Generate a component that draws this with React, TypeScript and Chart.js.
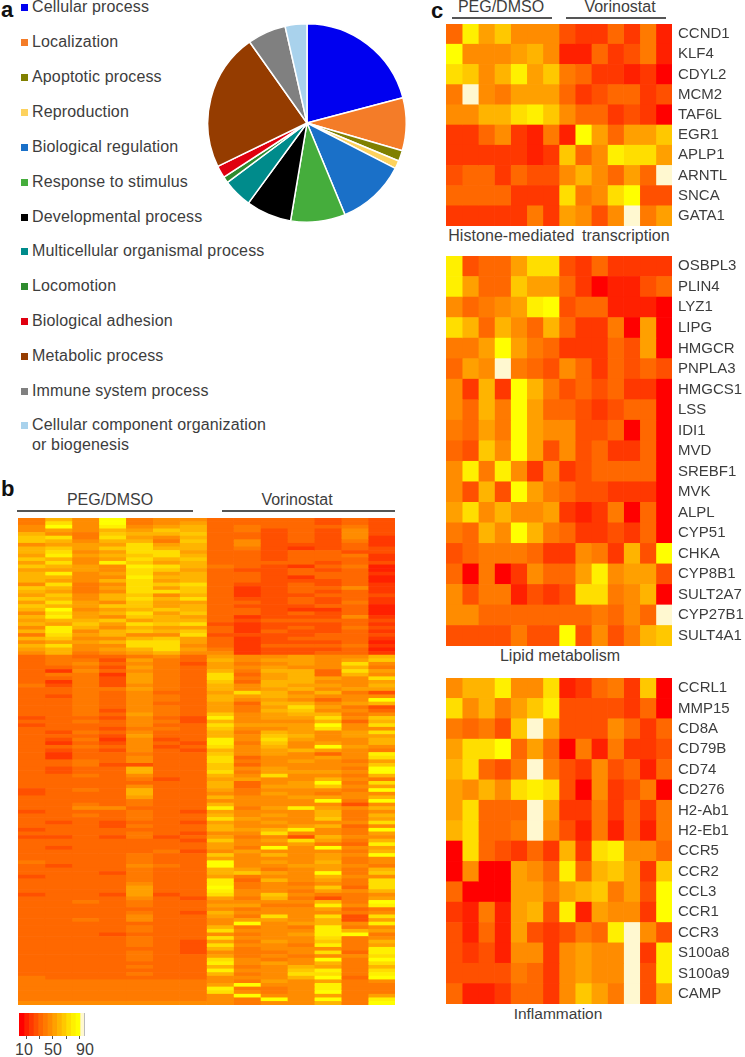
import React, { useEffect, useRef } from "react";
import { Chart, registerables } from "chart.js";
Chart.register(...registerables);

const FONT = '"Liberation Sans", Arial, sans-serif';
const TEXT = "#3d3d3d";

// ---------- panel a ----------
const pieCategories = ["Cellular process", "Localization", "Apoptotic process", "Reproduction", "Biological regulation", "Response to stimulus", "Developmental process", "Multicellular organismal process", "Locomotion", "Biological adhesion", "Metabolic process", "Immune system process", "Cellular component organization or biogenesis"];
const pieValues = [20.9, 8.6, 1.75, 1.3, 11.2, 8.9, 7.4, 4.75, 1.0, 2.0, 22.4, 6.25, 3.55];
const pieColors = ["#0000f0", "#f47c28", "#808000", "#fdd25e", "#1a70c8", "#45ad3c", "#000000", "#008b8b", "#2e8b2e", "#e00010", "#953c00", "#808080", "#a9d2ec"];
const legendY = [7, 42, 77, 112, 147, 182, 217, 251, 286, 321, 356, 391, 425];

// ---------- colour key ----------
const keyColors = ["#ff0000", "#ff2000", "#ff3800", "#ff5000", "#ff6800", "#ff7a00", "#ff8c00", "#ffa000", "#ffb400", "#ffc800", "#ffde00", "#fff000", "#ffff00", "#fff8d0"];
const keyStart = [0, 7, 14, 21, 28, 35, 42, 49, 56, 63, 70, 77, 84, 91];
const keyWidth = 7;
const keyTicks = [10, 30, 50, 70, 90];
const keyLabels = [["10", 24], ["50", 53], ["90", 85]];

// ---------- panel c ----------
const samples = ["P1", "P2", "P3", "P4", "P5", "P6", "P7", "V1", "V2", "V3", "V4", "V5", "V6", "V7"];
const histoneGenes = ["CCND1", "KLF4", "CDYL2", "MCM2", "TAF6L", "EGR1", "APLP1", "ARNTL", "SNCA", "GATA1"];
const histoneValues = [
  [34, 80, 52, 67, 46, 46, 46, 25, 15, 15, 32, 14, 40, 12],
  [84, 46, 46, 46, 52, 60, 42, 12, 12, 30, 20, 22, 40, 8],
  [70, 63, 48, 56, 80, 50, 63, 40, 34, 18, 20, 8, 14, 6],
  [36, 95, 48, 38, 52, 52, 52, 34, 15, 25, 30, 30, 14, 25],
  [46, 46, 56, 56, 70, 78, 63, 46, 30, 30, 14, 22, 14, 3],
  [14, 14, 34, 44, 20, 12, 40, 10, 84, 50, 30, 52, 52, 66],
  [14, 14, 14, 18, 18, 12, 20, 63, 34, 48, 78, 70, 70, 54],
  [26, 32, 32, 20, 30, 22, 22, 42, 60, 48, 34, 52, 30, 95],
  [30, 30, 30, 30, 20, 20, 20, 76, 36, 46, 74, 84, 22, 22],
  [20, 20, 20, 20, 20, 40, 20, 50, 44, 24, 42, 95, 36, 52],
];
const lipidGenes = ["OSBPL3", "PLIN4", "LYZ1", "LIPG", "HMGCR", "PNPLA3", "HMGCS1", "LSS", "IDI1", "MVD", "SREBF1", "MVK", "ALPL", "CYP51", "CHKA", "CYP8B1", "SULT2A7", "CYP27B1", "SULT4A1"];
const lipidValues = [
  [78, 22, 28, 28, 52, 70, 76, 24, 16, 32, 20, 20, 14, 14],
  [80, 54, 28, 28, 66, 54, 54, 30, 14, 6, 12, 12, 24, 34],
  [46, 34, 36, 44, 52, 80, 84, 22, 28, 28, 12, 12, 12, 4],
  [70, 62, 32, 56, 42, 34, 60, 28, 14, 14, 38, 4, 50, 3],
  [38, 38, 54, 84, 50, 38, 32, 14, 14, 14, 28, 24, 52, 4],
  [32, 52, 42, 95, 38, 30, 22, 46, 34, 14, 28, 24, 30, 26],
  [46, 14, 56, 18, 84, 60, 38, 22, 30, 26, 28, 20, 20, 5],
  [44, 32, 56, 38, 84, 54, 30, 30, 24, 14, 22, 28, 28, 4],
  [40, 34, 50, 38, 84, 52, 46, 46, 26, 24, 30, 4, 32, 4],
  [30, 22, 66, 44, 84, 52, 22, 42, 26, 32, 20, 20, 32, 4],
  [44, 78, 38, 78, 48, 16, 42, 14, 22, 30, 30, 30, 30, 4],
  [44, 24, 62, 24, 84, 54, 38, 34, 22, 26, 16, 16, 16, 4],
  [52, 70, 46, 60, 48, 48, 52, 14, 8, 20, 38, 4, 30, 6],
  [38, 30, 58, 48, 84, 62, 36, 30, 14, 14, 26, 14, 32, 4],
  [24, 30, 38, 38, 38, 28, 18, 18, 46, 38, 16, 56, 22, 84],
  [32, 4, 40, 6, 14, 48, 34, 34, 54, 82, 46, 54, 54, 24],
  [44, 24, 38, 38, 10, 22, 14, 24, 70, 76, 38, 44, 60, 6],
  [42, 42, 30, 30, 30, 30, 30, 30, 30, 38, 34, 42, 30, 95],
  [22, 22, 22, 22, 38, 22, 22, 84, 24, 46, 24, 40, 60, 68],
];
const inflammationGenes = ["CCRL1", "MMP15", "CD8A", "CD79B", "CD74", "CD276", "H2-Ab1", "H2-Eb1", "CCR5", "CCR2", "CCL3", "CCR1", "CCR3", "S100a8", "S100a9", "CAMP"];
const inflammationValues = [
  [46, 60, 56, 78, 42, 46, 76, 8, 14, 34, 40, 14, 64, 4],
  [70, 42, 58, 36, 54, 68, 82, 24, 24, 24, 24, 18, 32, 3],
  [40, 34, 38, 24, 68, 95, 54, 24, 24, 24, 46, 32, 16, 32],
  [54, 76, 70, 84, 34, 52, 32, 6, 40, 12, 40, 14, 14, 22],
  [62, 72, 34, 22, 40, 95, 40, 22, 14, 42, 26, 30, 8, 32],
  [54, 42, 56, 42, 70, 82, 70, 24, 6, 46, 14, 24, 38, 4],
  [52, 70, 34, 34, 34, 95, 50, 20, 20, 40, 20, 30, 16, 40],
  [60, 70, 34, 34, 38, 95, 44, 22, 12, 40, 12, 30, 8, 40],
  [6, 70, 34, 22, 14, 30, 14, 62, 14, 70, 82, 46, 46, 34],
  [4, 46, 6, 6, 54, 42, 34, 78, 30, 56, 64, 52, 14, 66],
  [34, 6, 6, 6, 54, 54, 36, 52, 56, 66, 40, 52, 22, 90],
  [20, 12, 40, 12, 50, 58, 26, 78, 12, 52, 44, 44, 14, 90],
  [22, 12, 34, 12, 50, 24, 14, 22, 36, 30, 82, 95, 44, 22],
  [22, 14, 24, 12, 42, 42, 14, 46, 54, 44, 44, 91, 20, 78],
  [24, 24, 24, 24, 40, 30, 14, 46, 54, 42, 42, 95, 24, 78],
  [34, 12, 12, 20, 28, 28, 14, 48, 64, 50, 40, 95, 24, 54],
];

// ---------- panel b (rows read top to bottom, estimated) ----------
const globalUpper = [
  [40, 62, 42, 84, 38, 44, 46, 34, 32, 28, 28, 26, 32, 26],
  [40, 76, 42, 84, 40, 48, 50, 32, 34, 28, 30, 26, 34, 26],
  [42, 84, 44, 78, 44, 52, 56, 30, 36, 28, 32, 28, 38, 26],
  [48, 54, 46, 56, 52, 64, 60, 28, 36, 24, 34, 24, 44, 26],
  [60, 48, 40, 66, 56, 58, 66, 28, 34, 26, 28, 22, 42, 22],
  [64, 72, 38, 70, 50, 46, 60, 30, 34, 26, 28, 22, 46, 20],
  [66, 62, 42, 56, 62, 40, 68, 32, 42, 24, 30, 22, 38, 18],
  [46, 54, 50, 50, 74, 52, 56, 28, 42, 26, 26, 24, 30, 20],
  [62, 64, 52, 66, 76, 62, 62, 34, 36, 26, 16, 26, 30, 22],
  [58, 70, 48, 54, 72, 74, 50, 28, 28, 26, 28, 30, 26, 22],
  [54, 80, 52, 62, 66, 76, 56, 32, 30, 24, 30, 28, 36, 18],
  [64, 60, 46, 50, 76, 62, 66, 28, 34, 24, 34, 32, 28, 20],
  [50, 70, 44, 80, 64, 54, 58, 34, 28, 28, 28, 24, 34, 22],
  [64, 58, 52, 42, 78, 70, 56, 36, 32, 24, 18, 28, 40, 12],
  [54, 50, 50, 46, 76, 66, 52, 30, 26, 26, 30, 24, 34, 10],
  [58, 78, 42, 52, 72, 50, 60, 34, 28, 26, 34, 30, 28, 18],
  [56, 60, 42, 48, 78, 58, 56, 30, 28, 22, 14, 30, 32, 8],
  [62, 54, 42, 56, 76, 54, 62, 34, 30, 24, 26, 26, 28, 10],
  [48, 72, 40, 46, 70, 66, 70, 28, 24, 26, 30, 24, 32, 16],
  [64, 60, 40, 52, 74, 50, 68, 34, 20, 24, 34, 32, 42, 20],
  [58, 52, 40, 42, 70, 70, 64, 30, 16, 22, 28, 24, 30, 18],
  [54, 66, 44, 58, 64, 48, 58, 32, 18, 26, 24, 30, 34, 24],
  [66, 56, 48, 62, 74, 62, 70, 28, 24, 22, 28, 26, 28, 18],
  [50, 76, 50, 44, 68, 54, 54, 34, 30, 24, 32, 22, 36, 18],
  [64, 58, 52, 66, 64, 52, 60, 30, 22, 26, 26, 28, 30, 10],
  [58, 84, 46, 54, 58, 66, 56, 34, 34, 22, 20, 14, 32, 8],
  [46, 70, 54, 60, 72, 50, 66, 28, 28, 24, 30, 22, 28, 10],
  [60, 80, 50, 48, 64, 62, 54, 32, 20, 22, 24, 26, 42, 20],
  [52, 62, 58, 66, 52, 56, 60, 30, 22, 30, 34, 30, 34, 22],
  [62, 50, 64, 52, 70, 68, 70, 26, 20, 24, 24, 24, 28, 16],
  [42, 80, 60, 44, 58, 54, 50, 34, 18, 22, 30, 26, 38, 24],
  [56, 82, 46, 62, 66, 60, 66, 30, 20, 28, 26, 24, 30, 18],
  [40, 72, 52, 56, 48, 48, 76, 26, 24, 24, 22, 28, 34, 22],
  [60, 66, 44, 46, 62, 64, 54, 32, 18, 22, 28, 30, 28, 14],
  [44, 52, 50, 60, 74, 70, 50, 34, 20, 24, 24, 24, 32, 10],
  [56, 70, 46, 42, 70, 76, 48, 28, 16, 30, 30, 28, 36, 14],
  [50, 62, 42, 54, 58, 74, 52, 36, 18, 22, 22, 22, 28, 12],
  [44, 58, 40, 46, 54, 62, 44, 42, 18, 26, 26, 30, 34, 18],
  [30, 40, 30, 34, 36, 42, 34, 54, 44, 44, 52, 46, 48, 56],
];
const globalLower = [
  [28, 36, 36, 26, 50, 40, 30, 60, 44, 50, 54, 46, 50, 68],
  [30, 38, 42, 32, 46, 38, 26, 50, 40, 46, 50, 44, 76, 46],
  [34, 34, 40, 24, 54, 38, 30, 52, 46, 52, 44, 48, 56, 36],
  [32, 20, 42, 30, 46, 36, 28, 60, 38, 58, 58, 32, 76, 52],
  [30, 36, 36, 20, 50, 38, 32, 72, 34, 54, 62, 30, 60, 42],
  [30, 28, 40, 22, 50, 36, 30, 70, 36, 52, 56, 50, 44, 76],
  [32, 20, 38, 22, 50, 38, 30, 68, 32, 58, 58, 46, 42, 52],
  [36, 26, 40, 26, 48, 36, 28, 58, 48, 56, 50, 52, 46, 60],
  [28, 30, 36, 36, 50, 36, 32, 62, 42, 54, 60, 46, 50, 54],
  [32, 34, 36, 32, 42, 34, 30, 54, 72, 58, 48, 56, 40, 24],
  [30, 24, 38, 32, 48, 36, 32, 56, 52, 60, 52, 44, 48, 48],
  [34, 32, 40, 28, 44, 36, 30, 62, 46, 52, 48, 30, 46, 84],
  [28, 34, 36, 32, 46, 34, 34, 54, 34, 60, 58, 42, 50, 58],
  [32, 30, 40, 34, 46, 38, 32, 50, 36, 52, 70, 50, 38, 24],
  [34, 32, 36, 26, 48, 36, 30, 52, 40, 62, 64, 48, 42, 28],
  [30, 32, 38, 30, 52, 36, 28, 68, 44, 54, 60, 58, 36, 46],
  [26, 34, 34, 22, 48, 34, 24, 78, 48, 50, 52, 72, 46, 64],
  [34, 32, 36, 32, 44, 36, 26, 62, 44, 46, 48, 56, 32, 60],
  [22, 30, 32, 28, 48, 34, 30, 74, 50, 52, 54, 84, 42, 76],
  [32, 32, 34, 24, 38, 36, 30, 64, 42, 48, 50, 74, 44, 48],
  [28, 26, 38, 30, 44, 34, 32, 58, 40, 56, 50, 46, 52, 74],
  [32, 34, 34, 26, 50, 30, 30, 60, 46, 68, 56, 42, 50, 52],
  [30, 24, 36, 20, 48, 24, 28, 78, 42, 70, 52, 44, 46, 60],
  [34, 20, 34, 22, 42, 34, 26, 82, 38, 64, 46, 50, 42, 56],
  [32, 30, 38, 28, 46, 22, 28, 76, 48, 58, 48, 84, 52, 42],
  [30, 24, 34, 26, 42, 30, 26, 56, 44, 52, 56, 54, 48, 40],
  [30, 18, 32, 32, 38, 32, 28, 64, 42, 54, 42, 28, 44, 78],
  [32, 20, 34, 28, 46, 30, 32, 70, 30, 48, 46, 52, 42, 74],
  [28, 28, 38, 30, 48, 32, 28, 76, 36, 46, 50, 46, 40, 52],
  [34, 32, 36, 26, 24, 34, 30, 68, 34, 46, 48, 42, 46, 64],
  [30, 26, 34, 32, 62, 30, 30, 66, 44, 54, 46, 48, 36, 84],
  [30, 22, 32, 32, 56, 30, 28, 76, 38, 50, 50, 54, 42, 88],
  [34, 28, 38, 28, 44, 32, 32, 58, 42, 70, 46, 44, 38, 60],
  [28, 32, 34, 30, 38, 26, 28, 52, 50, 46, 44, 58, 44, 38],
  [32, 30, 34, 30, 34, 34, 30, 62, 30, 44, 52, 84, 40, 74],
  [28, 30, 32, 32, 46, 34, 30, 56, 34, 52, 50, 66, 46, 54],
  [24, 32, 36, 28, 60, 32, 28, 50, 36, 48, 44, 46, 38, 84],
  [26, 32, 34, 30, 58, 32, 32, 46, 40, 50, 48, 40, 42, 48],
  [32, 34, 34, 30, 54, 34, 30, 60, 48, 44, 54, 50, 44, 56],
  [30, 30, 32, 32, 40, 30, 28, 48, 44, 48, 42, 84, 38, 86],
  [34, 32, 36, 28, 36, 32, 30, 58, 42, 46, 46, 44, 22, 46],
  [30, 34, 46, 44, 34, 34, 28, 80, 38, 50, 78, 52, 42, 56],
  [22, 32, 30, 30, 38, 30, 26, 52, 48, 44, 48, 60, 36, 42],
  [30, 28, 36, 32, 40, 34, 30, 62, 42, 52, 46, 58, 40, 62],
  [28, 32, 32, 30, 36, 32, 28, 70, 50, 46, 42, 68, 38, 50],
  [32, 24, 34, 24, 34, 28, 24, 50, 44, 54, 46, 48, 42, 76],
  [30, 34, 28, 22, 36, 32, 28, 60, 42, 48, 52, 56, 32, 46],
  [26, 30, 34, 28, 32, 30, 30, 56, 54, 62, 78, 42, 38, 84],
  [30, 32, 32, 32, 36, 34, 26, 48, 46, 70, 46, 46, 36, 52],
  [22, 24, 30, 26, 38, 26, 28, 52, 40, 44, 24, 60, 44, 44],
  [30, 32, 28, 30, 34, 30, 24, 66, 46, 50, 70, 50, 40, 58],
  [32, 30, 32, 32, 32, 32, 30, 54, 42, 46, 50, 38, 34, 78],
  [28, 24, 34, 28, 34, 32, 28, 50, 36, 84, 44, 86, 42, 50],
  [34, 34, 32, 30, 32, 36, 26, 44, 52, 42, 48, 44, 36, 60],
  [30, 32, 30, 34, 36, 34, 32, 66, 44, 60, 46, 52, 44, 84],
  [30, 34, 32, 32, 38, 30, 28, 50, 42, 48, 42, 52, 40, 48],
  [36, 30, 34, 30, 38, 32, 30, 84, 42, 52, 48, 60, 36, 44],
  [28, 22, 30, 32, 44, 36, 28, 84, 48, 44, 52, 50, 42, 40],
  [32, 32, 32, 32, 36, 34, 32, 58, 50, 38, 44, 52, 38, 56],
  [30, 30, 30, 26, 40, 32, 32, 60, 64, 50, 42, 84, 40, 66],
  [26, 34, 30, 30, 36, 30, 28, 52, 40, 46, 42, 56, 42, 44],
  [30, 32, 34, 28, 36, 30, 30, 80, 34, 62, 46, 54, 36, 70],
  [28, 30, 32, 32, 48, 30, 30, 82, 38, 42, 38, 44, 38, 76],
  [30, 34, 30, 32, 50, 28, 28, 84, 36, 44, 42, 68, 34, 72],
  [28, 32, 30, 30, 52, 32, 30, 80, 48, 42, 40, 50, 42, 62],
  [24, 28, 32, 24, 54, 26, 28, 76, 42, 64, 42, 40, 38, 46],
  [30, 34, 34, 28, 42, 30, 26, 54, 36, 58, 36, 26, 40, 52],
  [32, 30, 36, 32, 38, 32, 30, 44, 44, 44, 42, 60, 38, 84],
  [28, 32, 34, 32, 38, 32, 32, 52, 50, 40, 40, 80, 42, 78],
  [30, 28, 32, 28, 34, 30, 28, 46, 36, 48, 44, 54, 32, 40],
  [32, 30, 30, 32, 36, 32, 26, 58, 46, 44, 46, 44, 38, 48],
  [30, 30, 34, 34, 44, 30, 28, 50, 38, 70, 42, 70, 24, 74],
  [32, 32, 36, 34, 42, 32, 32, 46, 50, 50, 44, 60, 26, 54],
  [34, 34, 32, 30, 32, 32, 30, 44, 84, 44, 50, 62, 44, 80],
  [30, 32, 32, 28, 36, 30, 28, 62, 40, 42, 40, 78, 40, 46],
  [32, 32, 30, 32, 36, 32, 32, 74, 44, 42, 46, 82, 58, 50],
  [28, 30, 32, 26, 34, 30, 30, 44, 40, 46, 50, 80, 84, 40],
  [32, 32, 30, 32, 36, 30, 28, 70, 44, 42, 42, 76, 38, 44],
  [30, 30, 28, 30, 38, 30, 26, 50, 36, 50, 44, 68, 36, 60],
  [32, 32, 28, 30, 36, 32, 26, 74, 42, 44, 40, 78, 40, 52],
  [34, 30, 30, 32, 34, 28, 26, 58, 38, 42, 42, 48, 38, 80],
  [30, 32, 30, 30, 36, 30, 24, 48, 40, 40, 46, 76, 32, 78],
  [32, 32, 28, 32, 36, 32, 28, 52, 36, 44, 40, 46, 44, 76],
  [32, 30, 30, 32, 38, 30, 30, 70, 44, 38, 42, 84, 40, 84],
  [34, 32, 32, 30, 34, 32, 30, 80, 42, 50, 44, 60, 40, 70],
  [32, 32, 32, 32, 36, 34, 30, 60, 38, 42, 58, 50, 36, 58],
  [34, 32, 32, 32, 32, 32, 32, 82, 44, 44, 68, 80, 36, 76],
  [34, 34, 34, 34, 36, 34, 34, 56, 40, 48, 76, 74, 38, 82],
  [36, 34, 34, 34, 34, 32, 32, 48, 46, 42, 56, 86, 34, 84],
  [38, 36, 36, 36, 38, 36, 36, 42, 40, 50, 42, 50, 40, 46],
  [38, 36, 36, 38, 36, 36, 36, 50, 84, 44, 46, 80, 36, 38],
  [40, 38, 38, 40, 40, 38, 38, 80, 40, 40, 44, 78, 36, 40],
  [38, 38, 38, 38, 36, 36, 38, 74, 42, 40, 42, 84, 36, 38],
  [40, 40, 40, 40, 40, 40, 38, 44, 84, 42, 48, 52, 38, 50],
  [40, 40, 40, 40, 40, 40, 40, 48, 40, 88, 44, 90, 38, 78],
  [42, 42, 42, 42, 42, 42, 42, 44, 40, 42, 44, 62, 40, 88],
];
const globalValues = [...globalUpper, ...globalLower];
const globalRows = globalValues.map((_, i) => String(i + 1));

function heat(v: number): string {
  const i = Math.max(0, Math.min(keyColors.length - 1, Math.floor(v / keyWidth)));
  return keyColors[i];
}

function useChart(build: (c: HTMLCanvasElement) => Chart) {
  const ref = useRef<HTMLCanvasElement | null>(null);
  useEffect(() => {
    const chart = build(ref.current as HTMLCanvasElement);
    return () => chart.destroy();
  }, []);
  return ref;
}

function Heatmap({ x, y, w, h, axisW, rows, values, showLabels, blur }: any) {
  const ref = useChart((c) =>
    new Chart(c, {
      type: "bar",
      data: {
        labels: rows,
        datasets: samples.map((s, j) => ({
          label: s,
          data: values.map((r: number[], i: number) => ({ x: [j, j + 1], y: rows[i], v: r[j] })),
          backgroundColor: values.map((r: number[]) => heat(r[j])),
          borderWidth: 0,
          grouped: false,
          barPercentage: 1,
          categoryPercentage: 1,
        })),
      } as any,
      options: {
        indexAxis: "y",
        animation: false,
        responsive: false,
        events: [],
        layout: { padding: 0 },
        plugins: { legend: { display: false }, tooltip: { enabled: false } },
        scales: {
          x: { type: "linear", min: 0, max: samples.length, display: false },
          y: {
            type: "category",
            position: "right",
            display: !!showLabels,
            grid: { display: false, drawTicks: false },
            border: { display: false },
            afterFit: (s: any) => {
              s.width = axisW;
              s.paddingTop = 0;
              s.paddingBottom = 0;
            },
            ticks: { autoSkip: false, padding: 6, maxRotation: 0, color: TEXT, font: { family: FONT, size: 15 } },
          },
        },
      } as any,
    })
  );
  return <canvas ref={ref} width={w + axisW} height={h} style={{ position: "absolute", left: x, top: y, display: "block", filter: blur ? `blur(${blur}px)` : undefined }} />;
}

function Pie() {
  const ref = useChart((c) =>
    new Chart(c, {
      type: "pie",
      data: {
        labels: pieCategories,
        datasets: [{ data: pieValues, backgroundColor: pieColors, borderColor: "#fff", borderWidth: 1.5 }],
      },
      options: {
        animation: false,
        responsive: false,
        events: [],
        layout: { padding: 2 },
        plugins: { legend: { display: false }, tooltip: { enabled: false } },
      } as any,
    })
  );
  return <canvas ref={ref} width={204} height={204} style={{ position: "absolute", left: 205, top: 21, display: "block" }} />;
}

function ColorKey() {
  const ref = useChart((c) =>
    new Chart(c, {
      type: "bar",
      data: {
        labels: ["key"],
        datasets: keyColors.map((col, i) => ({
          data: [{ x: [keyStart[i], keyStart[i] + keyWidth], y: "key" }],
          backgroundColor: col,
          borderWidth: 0,
          grouped: false,
          barPercentage: 1,
          categoryPercentage: 1,
        })),
      } as any,
      options: {
        indexAxis: "y",
        animation: false,
        responsive: false,
        events: [],
        layout: { padding: 0 },
        plugins: { legend: { display: false }, tooltip: { enabled: false } },
        scales: {
          x: {
            type: "linear",
            min: -0.5,
            max: 97,
            afterBuildTicks: (s: any) => { s.ticks = keyTicks.map((value) => ({ value })); },
            grid: { drawOnChartArea: false, drawTicks: true, tickLength: 3, color: "#555" },
            border: { display: false },
            ticks: { display: false },
            afterFit: (s: any) => { s.height = 3; },
          },
          y: { type: "category", display: false },
        },
      } as any,
    })
  );
  return <canvas ref={ref} width={65} height={26} style={{ position: "absolute", left: 19, top: 1013, display: "block" }} />;
}

function T({ x, y, size = 16, bold = false, align = "left", spacing = 0, children }: any) {
  const tx = align === "center" ? "-50%" : "0";
  return (
    <div style={{ position: "absolute", left: x, top: y, transform: `translate(${tx},-50%)`, whiteSpace: "nowrap", fontFamily: FONT, fontSize: size, lineHeight: 1, fontWeight: bold ? 700 : 400, letterSpacing: spacing, color: bold ? "#111" : TEXT }}>
      {children}
    </div>
  );
}
function Rule({ x1, x2, y }: any) {
  return <div style={{ position: "absolute", left: x1, width: x2 - x1, top: y - 1, height: 1.6, background: "#555" }} />;
}

export default function App() {
  return (
    <div style={{ position: "absolute", left: 0, top: 0, width: 745, height: 1057, overflow: "hidden", background: "#fff", filter: "blur(0.4px)" }}>
      <T x={1} y={10} size={22} bold>a</T>
      <T x={1} y={489} size={22} bold>b</T>
      <T x={431} y={11} size={22} bold>c</T>

      {pieCategories.map((name, i) => (
        <React.Fragment key={name}>
          <div style={{ position: "absolute", left: 21, top: legendY[i] - 3.5, width: 7, height: 7, background: pieColors[i] }} />
          {i < 12 ? (
            <T x={32} y={legendY[i]} spacing={0.15}>{name}</T>
          ) : (
            <>
              <T x={32} y={legendY[i]} spacing={0.15}>Cellular component organization</T>
              <T x={32} y={legendY[i] + 20} spacing={0.15}>or biogenesis</T>
            </>
          )}
        </React.Fragment>
      ))}
      <Pie />

      <T x={110} y={500} align="center">PEG/DMSO</T>
      <T x={297} y={500} align="center">Vorinostat</T>
      <Rule x1={17} x2={193} y={511} />
      <Rule x1={222} x2={395} y={511} />
      <Heatmap x={18} y={518} w={377} h={487} axisW={0} rows={globalRows} values={globalValues} blur={0.7} />
      <ColorKey />
      <div style={{ position: "absolute", left: 84, top: 1013, width: 1, height: 23, background: "#bbb" }} />
      {keyLabels.map(([t, x]) => (
        <T key={t as string} x={x} y={1050} align="center">{t}</T>
      ))}

      <T x={501} y={7} align="center">PEG/DMSO</T>
      <T x={620} y={7} align="center">Vorinostat</T>
      <Rule x1={452} x2={552} y={18} />
      <Rule x1={566} x2={666} y={18} />
      <Heatmap x={446} y={24} w={226} h={202} axisW={73} rows={histoneGenes} values={histoneValues} showLabels />
      <T x={559} y={236} align="center" spacing={0.05}>
        <span style={{ wordSpacing: 3 }}>Histone-mediated transcription</span>
      </T>
      <Heatmap x={446} y={256} w={226} h={390} axisW={73} rows={lipidGenes} values={lipidValues} showLabels />
      <T x={560} y={656} align="center">Lipid metabolism</T>
      <Heatmap x={446} y={678} w={226} h={326} axisW={73} rows={inflammationGenes} values={inflammationValues} showLabels />
      <T x={558} y={1014} align="center" size={15.5}>Inflammation</T>
    </div>
  );
}
